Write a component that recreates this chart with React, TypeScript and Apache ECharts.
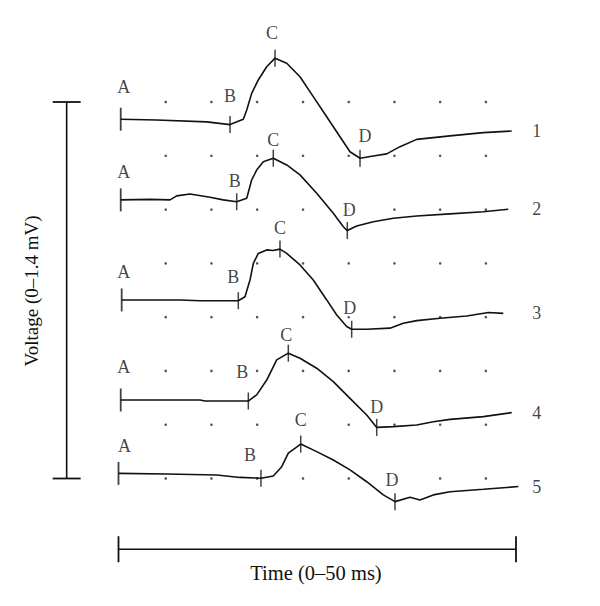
import React, { useEffect, useRef } from "react";
import * as echarts from "echarts";

// Time in ms, displayed voltage in mV (traces are stacked on the 0–1.4 mV display)
const trace1: [number, number][] = [
  [0.28, 1.336], [4.81, 1.333], [11.09, 1.326], [14.03, 1.316], [15.7, 1.336], [16.13, 1.37],
  [16.75, 1.432], [17.58, 1.482], [18.64, 1.531], [19.69, 1.563], [21.16, 1.544], [22.83, 1.494],
  [24.5, 1.42], [26.19, 1.345], [27.86, 1.271], [29.12, 1.215], [30.38, 1.191], [32.05, 1.199],
  [33.74, 1.207], [35.41, 1.234], [37.51, 1.261], [41.7, 1.274], [45.89, 1.286], [49.46, 1.292],
];
const trace2: [number, number][] = [
  [0.28, 1.036], [3.96, 1.038], [6.48, 1.036], [7.32, 1.051], [8.99, 1.058], [11.51, 1.046],
  [13.18, 1.036], [14.87, 1.029], [16.13, 1.042], [16.75, 1.11], [17.38, 1.147], [18.21, 1.178],
  [19.47, 1.191], [21.16, 1.166], [22.83, 1.129], [24.93, 1.061], [27.02, 0.986], [28.28, 0.936],
  [28.78, 0.922], [29.96, 0.939], [32.05, 0.955], [34.57, 0.968], [37.51, 0.976], [41.7, 0.984],
  [45.89, 0.992], [49.03, 1.001],
];
const trace3: [number, number][] = [
  [0.4, 0.664], [7.74, 0.664], [10.25, 0.661], [15.07, 0.661], [15.91, 0.676], [16.54, 0.738],
  [16.96, 0.8], [17.58, 0.837], [18.64, 0.85], [19.43, 0.848], [20.31, 0.853], [21.16, 0.837],
  [22.83, 0.794], [24.5, 0.738], [26.19, 0.664], [27.45, 0.608], [28.7, 0.565], [29.33, 0.555],
  [31.22, 0.555], [34.15, 0.559], [35.82, 0.577], [37.51, 0.587], [40.44, 0.596], [43.8, 0.604],
  [46.52, 0.617], [48.4, 0.614],
];
const trace4: [number, number][] = [
  [0.28, 0.292], [10.25, 0.292], [10.88, 0.288], [16.33, 0.288], [17.38, 0.311], [18.64, 0.366],
  [19.9, 0.441], [21.36, 0.466], [22.83, 0.447], [24.93, 0.41], [27.02, 0.36], [29.12, 0.298],
  [31.22, 0.236], [32.48, 0.19], [34.57, 0.193], [37.51, 0.199], [39.6, 0.211], [41.7, 0.22],
  [45.89, 0.23], [49.46, 0.245],
];
const trace5: [number, number][] = [
  [0, 0.019], [6.06, 0.017], [12.35, 0.013], [15.28, 0.004], [17.92, 0.001], [19.47, 0.009],
  [20.53, 0.044], [21.36, 0.094], [22.92, 0.128], [24.93, 0.1], [27.02, 0.069], [29.12, 0.032],
  [31.22, -0.012], [33.31, -0.061], [34.78, -0.086], [36.67, -0.07], [37.92, -0.08], [39.6, -0.061],
  [41.7, -0.049], [45.89, -0.04], [50.29, -0.03],
];
const traces = [trace1, trace2, trace3, trace4, trace5];
const traceNames = ["1", "2", "3", "4", "5"];
const markerLetters = ["A", "B", "C", "D"];
// time (ms) of the A, B, C, D marks on each trace
const markerTimes = [
  [0.28, 14.03, 19.69, 30.38],
  [0.28, 14.87, 19.47, 28.78],
  [0.4, 15.07, 20.31, 29.33],
  [0.28, 16.33, 21.36, 32.48],
  [0, 17.92, 22.92, 34.78],
];
const dotTimes = [5.94, 11.69, 17.44, 23.21, 28.96, 34.71, 40.46, 46.21];
const dotLevels = [0, 0.2, 0.4, 0.6, 0.8, 1.0, 1.2, 1.4];
const timeRange = [0, 50];
const voltageRange = [0, 1.4];

// ---- layout / style (not data) ----
const INK = "#111111";
const FONT = "'Liberation Serif', 'DejaVu Serif', serif";
const X_VIEW = [-10, 60];
const TIME_BAR_V = -0.263;
const VOLT_BAR_T = -6.52;
const NUMBER_T = 52.6;
// pixel label offsets [dx, up] for A, B, C, D of each trace
const labelOffsets = [
  [[3, 32], [0, 29], [-3, 25], [5, 22]],
  [[3, 28], [-2, 21], [0, 18], [2, 21]],
  [[2, 28], [-5, 24], [0, 21], [-2, 21]],
  [[3, 33], [-6, 29], [-2, 18], [0, 20]],
  [[6, 27], [-11, 23], [0, 24], [-3, 22]],
];

export default function App() {
  const ref = useRef<HTMLDivElement>(null);
  useEffect(() => {
    document.body.style.margin = "0";
    if (!ref.current) return;
    const chart = echarts.init(ref.current, undefined, { renderer: "svg" });

    const dots: number[][] = [];
    dotLevels.forEach((v) => dotTimes.forEach((t) => dots.push([t, v])));

    const markers: any[] = [];
    traces.forEach((tr, i) => {
      markerTimes[i].forEach((t, j) => {
        const pt = tr.find((p) => p[0] === t)!;
        const off = labelOffsets[i][j];
        markers.push({
          value: [pt[0], pt[1]],
          symbolSize: j === 0 ? [1.8, 23] : [1.5, 17],
          label: {
            show: true,
            formatter: markerLetters[j],
            position: "inside",
            offset: [off[0], -off[1]],
            color: INK,
            fontFamily: FONT,
            fontSize: 18,
            backgroundColor: "#ffffff",
            padding: [0, 1],
            lineHeight: 16,
          },
        });
      });
    });

    const numbers = traces.map((tr, i) => ({
      value: [NUMBER_T, tr[tr.length - 1][1]],
      label: {
        show: true,
        formatter: traceNames[i],
        position: "inside",
        color: INK,
        fontFamily: FONT,
        fontSize: 18,
      },
    }));

    const option: any = {
      animation: false,
      backgroundColor: "#ffffff",
      grid: { left: 39, right: 4.5, top: 102, bottom: 127.5, containLabel: false },
      xAxis: {
        type: "value",
        min: X_VIEW[0],
        max: X_VIEW[1],
        axisLine: { show: false },
        axisTick: { show: false },
        axisLabel: { show: false },
        splitLine: { show: false },
      },
      yAxis: {
        type: "value",
        min: voltageRange[0],
        max: voltageRange[1],
        axisLine: { show: false },
        axisTick: { show: false },
        axisLabel: { show: false },
        splitLine: { show: false },
      },
      graphic: [
        {
          type: "text",
          x: 31.5,
          y: 291,
          rotation: Math.PI / 2,
          style: {
            text: "Voltage (0–1.4 mV)",
            fill: INK,
            font: `19px ${FONT}`,
            align: "center",
            verticalAlign: "middle",
          },
        },
        {
          type: "text",
          x: 316,
          y: 573,
          style: {
            text: "Time (0–50 ms)",
            fill: INK,
            font: `20.5px ${FONT}`,
            align: "center",
            verticalAlign: "middle",
          },
        },
      ],
      series: [
        {
          type: "scatter",
          data: dots,
          symbol: "circle",
          symbolSize: 2.6,
          itemStyle: { color: "#2a2a2a" },
          clip: false,
          silent: true,
          z: 1,
        },
        ...traces.map((tr, i) => ({
          type: "line",
          name: traceNames[i],
          data: tr,
          showSymbol: false,
          clip: false,
          lineStyle: { color: INK, width: 1.6 },
          z: 2,
        })),
        {
          type: "scatter",
          data: markers,
          symbol: "rect",
          itemStyle: { color: INK },
          clip: false,
          z: 3,
        },
        {
          type: "scatter",
          data: numbers,
          symbolSize: 0,
          clip: false,
          z: 3,
        },
        {
          type: "line",
          data: [[timeRange[0], TIME_BAR_V], [timeRange[1], TIME_BAR_V]],
          symbol: "rect",
          symbolSize: [1.8, 26],
          showSymbol: true,
          showAllSymbol: true,
          clip: false,
          itemStyle: { color: INK },
          lineStyle: { color: INK, width: 1.6 },
          z: 2,
        },
        {
          type: "line",
          data: [[VOLT_BAR_T, voltageRange[0]], [VOLT_BAR_T, voltageRange[1]]],
          symbol: "rect",
          symbolSize: [28, 1.8],
          showSymbol: true,
          showAllSymbol: true,
          clip: false,
          itemStyle: { color: INK },
          lineStyle: { color: INK, width: 1.6 },
          z: 2,
        },
      ],
    };
    chart.setOption(option);
    return () => chart.dispose();
  }, []);
  return <div ref={ref} style={{ width: 600, height: 606 }} />;
}
